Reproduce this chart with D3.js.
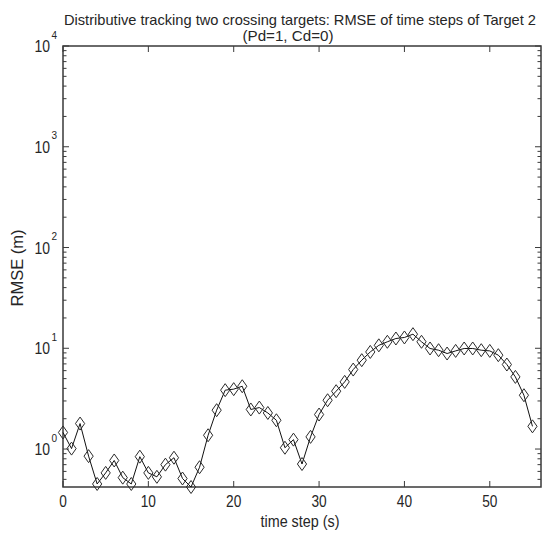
<!DOCTYPE html>
<html><head><meta charset="utf-8">
<script src="https://cdn.jsdelivr.net/npm/d3@7"></script>
<style>html,body{margin:0;padding:0;background:#fff;}svg{display:block;font-family:"Liberation Sans",Arial,sans-serif;}</style>
</head><body><svg id="c" width="542" height="537"></svg>
<script>
const titleLines = ["Distributive tracking two crossing targets: RMSE of time steps of Target 2", "(Pd=1, Cd=0)"];
const xLabel = "time step (s)";
const yLabel = "RMSE (m)";
const steps = d3.range(0, 56);
const rmse = [1.46,1.01,1.79,0.85,0.45,0.58,0.77,0.52,0.45,0.84,
  0.58,0.53,0.70,0.82,0.51,0.42,0.66,1.37,2.43,3.84,
  3.93,4.2,2.47,2.58,2.28,1.93,1.03,1.24,0.71,1.32,
  2.2,3.05,3.75,4.64,6.15,7.62,9.2,10.7,11.6,12.5,
  12.8,13.8,11.6,9.95,9.57,8.87,9.42,9.95,9.95,9.57,
  9.42,8.54,6.9,5.2,3.42,1.68];
const xTicks = [0,10,20,30,40,50];
const yMajor = [1,10,100,1000,10000];
const yExp = ["0","1","2","3","4"];
const xDomain = [0,56];
const yDomain = [0.42,10000];

const svg = d3.select("#c");
const L=63,R=541,T=46,B=487;
const x = d3.scaleLinear().domain(xDomain).range([L,R]);
const y = d3.scaleLog().domain(yDomain).range([B,T]);
const axisCol="#3a3a3a", txtCol="#262626";

svg.append("rect").attr("width",542).attr("height",537).attr("fill","#fff");

// minor y ticks
const minor=[];
for(let k=-1;k<4;k++) for(let m=2;m<=9;m++){const v=m*Math.pow(10,k); if(v>=yDomain[0]&&v<=yDomain[1]) minor.push(v);}
const g = svg.append("g").attr("stroke",axisCol).attr("stroke-width",1);
minor.forEach(v=>{
  g.append("line").attr("x1",L).attr("x2",L+3.5).attr("y1",y(v)).attr("y2",y(v));
  g.append("line").attr("x1",R).attr("x2",R-3.5).attr("y1",y(v)).attr("y2",y(v));
});
yMajor.forEach(v=>{
  g.append("line").attr("x1",L).attr("x2",L+6).attr("y1",y(v)).attr("y2",y(v));
  g.append("line").attr("x1",R).attr("x2",R-6).attr("y1",y(v)).attr("y2",y(v));
});
xTicks.forEach(v=>{
  g.append("line").attr("x1",x(v)).attr("x2",x(v)).attr("y1",B).attr("y2",B-6);
  g.append("line").attr("x1",x(v)).attr("x2",x(v)).attr("y1",T).attr("y2",T+6);
});
svg.append("rect").attr("x",L).attr("y",T).attr("width",R-L).attr("height",B-T)
  .attr("fill","none").attr("stroke",axisCol).attr("stroke-width",1.5);

// x tick labels
xTicks.forEach(v=>{
  const s=String(v);
  svg.append("text").attr("x",x(v)).attr("y",507).attr("text-anchor","middle")
    .attr("font-size",16).attr("fill",txtCol)
    .attr("textLength",s.length*7.6).attr("lengthAdjust","spacingAndGlyphs").text(s);
});
// y tick labels
yMajor.forEach((v,i)=>{
  svg.append("text").attr("x",50).attr("y",y(v)+6).attr("text-anchor","end")
    .attr("font-size",16).attr("fill",txtCol)
    .attr("textLength",15.5).attr("lengthAdjust","spacingAndGlyphs").text("10");
  svg.append("text").attr("x",51.5).attr("y",y(v)-7.5).attr("font-size",10).attr("fill",txtCol).text(yExp[i]);
});

// line + markers
const line = d3.line().x((d,i)=>x(steps[i])).y(d=>y(d));
svg.append("path").datum(rmse).attr("d",line).attr("fill","none").attr("stroke","#111").attr("stroke-width",1);
svg.append("g").selectAll("path").data(rmse).join("path")
  .attr("d",(d,i)=>{const cx=x(steps[i]),cy=y(d),w=4.6,h=6.5;return `M${cx},${cy-h}L${cx+w},${cy}L${cx},${cy+h}L${cx-w},${cy}Z`;})
  .attr("fill","none").attr("stroke","#2a2a2a").attr("stroke-width",1);

// titles
svg.append("text").attr("x",300).attr("y",25).attr("text-anchor","middle").attr("font-size",14.5).attr("fill",txtCol)
  .attr("textLength",472).attr("lengthAdjust","spacingAndGlyphs").text(titleLines[0]);
svg.append("text").attr("x",288).attr("y",40.5).attr("text-anchor","middle").attr("font-size",15).attr("fill",txtCol)
  .attr("textLength",91).attr("lengthAdjust","spacingAndGlyphs").text(titleLines[1]);
svg.append("text").attr("x",300).attr("y",527).attr("text-anchor","middle").attr("font-size",16).attr("fill",txtCol)
  .attr("textLength",79).attr("lengthAdjust","spacingAndGlyphs").text(xLabel);
svg.append("text").attr("transform","translate(23,268) rotate(-90)").attr("text-anchor","middle").attr("font-size",16).attr("fill",txtCol)
  .attr("textLength",77).attr("lengthAdjust","spacingAndGlyphs").text(yLabel);
</script></body></html>
